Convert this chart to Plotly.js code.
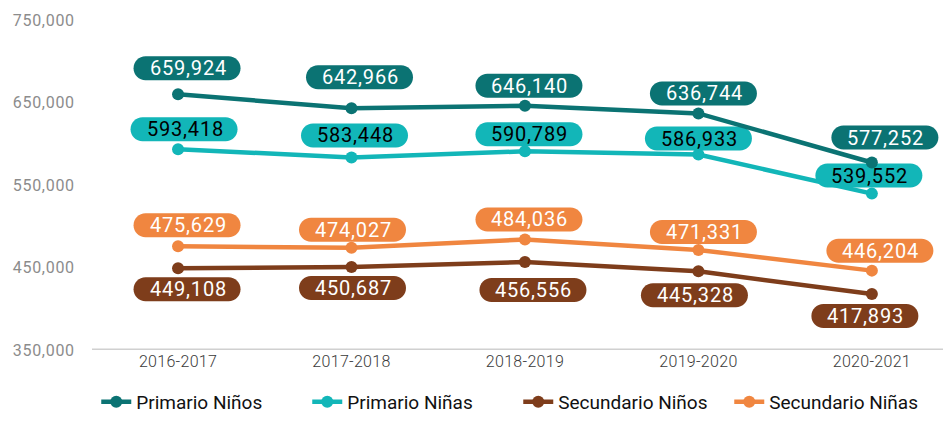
<!DOCTYPE html>
<html>
<head>
<meta charset="utf-8">
<script src="https://cdn.plot.ly/plotly-3.0.1.min.js"></script>
<style>
  body { margin: 0; background: #fff; }
  #chart { width: 943px; height: 421px; }
  .ytick text { letter-spacing: 0.7px; }
  .xtick text { letter-spacing: 0.3px; }
  .annotation-text { letter-spacing: 0.8px; }
</style>
</head>
<body>
<div id="chart"></div>
<script>
var years = ['2016-2017', '2017-2018', '2018-2019', '2019-2020', '2020-2021'];
var primNinos = [659924, 642966, 646140, 636744, 577252];
var primNinas = [593418, 583448, 590789, 586933, 539552];
var secNinos = [449108, 450687, 456556, 445328, 417893];
var secNinas = [475629, 474027, 484036, 471331, 446204];

// label pill offsets from each point, in screen pixels (dy > 0 is downward)
var series = [
  {name: 'Primario Niños', y: primNinos, color: '#0b7373', text: '#ffffff',
   off: [[9, -26], [8, -31], [4, -20], [5, -20], [13, -25]]},
  {name: 'Primario Niñas', y: primNinas, color: '#12b6b8', text: '#000000',
   off: [[6, -20], [3, -22], [4, -17], [0, -16], [-3, -18]]},
  {name: 'Secundario Niños', y: secNinos, color: '#7e3d1b', text: '#ffffff',
   off: [[9, 21], [1, 21], [8, 28], [-4, 24], [-7, 22]]},
  {name: 'Secundario Niñas', y: secNinas, color: '#f08640', text: '#ffffff',
   off: [[9, -21], [1, -18], [4, -20], [5, -18], [8, -20]]}
];

function fmt(v) { return v.toLocaleString('en-US'); }

function pill(cx, cy, w, h) {
  var r = h / 2, k = 0.5523 * r;
  var l = cx - w / 2, rt = cx + w / 2, t = cy + r, b = cy - r;
  return 'M' + (l + r) + ',' + t + ' L' + (rt - r) + ',' + t +
    ' C' + (rt - r + k) + ',' + t + ' ' + rt + ',' + (cy + k) + ' ' + rt + ',' + cy +
    ' C' + rt + ',' + (cy - k) + ' ' + (rt - r + k) + ',' + b + ' ' + (rt - r) + ',' + b +
    ' L' + (l + r) + ',' + b +
    ' C' + (l + r - k) + ',' + b + ' ' + l + ',' + (cy - k) + ' ' + l + ',' + cy +
    ' C' + l + ',' + (cy + k) + ' ' + (l + r - k) + ',' + t + ' ' + (l + r) + ',' + t + ' Z';
}

var data = [];
var shapes = [];
var annotations = [];

series.forEach(function (s) {
  data.push({
    x: years,
    y: s.y,
    type: 'scatter',
    mode: 'lines+markers',
    name: s.name,
    line: {color: s.color, width: 4.5},
    marker: {color: s.color, size: 12},
    hoverinfo: 'skip'
  });
  s.y.forEach(function (v, i) {
    var dx = s.off[i][0], dy = -s.off[i][1];
    shapes.push({
      type: 'path',
      layer: 'below',
      xref: 'x', yref: 'y',
      xsizemode: 'pixel', ysizemode: 'pixel',
      xanchor: i, yanchor: v,
      path: pill(dx, dy, 107, 24),
      fillcolor: s.color,
      line: {width: 0}
    });
    annotations.push({
      x: i, y: v, xref: 'x', yref: 'y',
      text: fmt(v),
      showarrow: false,
      xshift: dx + 1, yshift: dy,
      font: {family: 'Roboto', size: 20, color: s.text}
    });
  });
});

var layout = {
  width: 943,
  height: 421,
  margin: {l: 92, r: 0, t: 20, b: 71, autoexpand: false},
  paper_bgcolor: '#ffffff',
  plot_bgcolor: '#ffffff',
  showlegend: true,
  legend: {
    orientation: 'h',
    x: 0.005, xanchor: 'left',
    y: -0.2150, yanchor: 'bottom',
    entrywidth: 166,
    font: {family: 'Roboto', size: 19, color: '#111111'},
    traceorder: 'normal'
  },
  xaxis: {
    type: 'category',
    range: [-0.496, 4.41],
    showgrid: false,
    zeroline: false,
    showline: false,
    ticks: '',
    tickfont: {family: 'Roboto', size: 16, color: '#3a3a3a', weight: 300},
    fixedrange: true
  },
  yaxis: {
    range: [350000, 750000],
    tickvals: [350000, 450000, 550000, 650000, 750000],
    ticktext: ['350,000', '450,000', '550,000', '650,000', '750,000'],
    showgrid: false,
    zeroline: false,
    showline: false,
    ticks: 'outside',
    ticklen: 13,
    tickcolor: 'rgba(0,0,0,0)',
    tickfont: {family: 'Roboto', size: 16, color: '#8c8c8c'},
    fixedrange: true
  },
  shapes: shapes.concat([{
    type: 'line', xref: 'paper', yref: 'y',
    x0: 0, x1: 1, y0: 350000, y1: 350000,
    line: {color: '#d0d0d0', width: 3},
    layer: 'below'
  }]),
  annotations: annotations
};

Plotly.newPlot('chart', data, layout, {displayModeBar: false, staticPlot: true});
</script>
</body>
</html>
